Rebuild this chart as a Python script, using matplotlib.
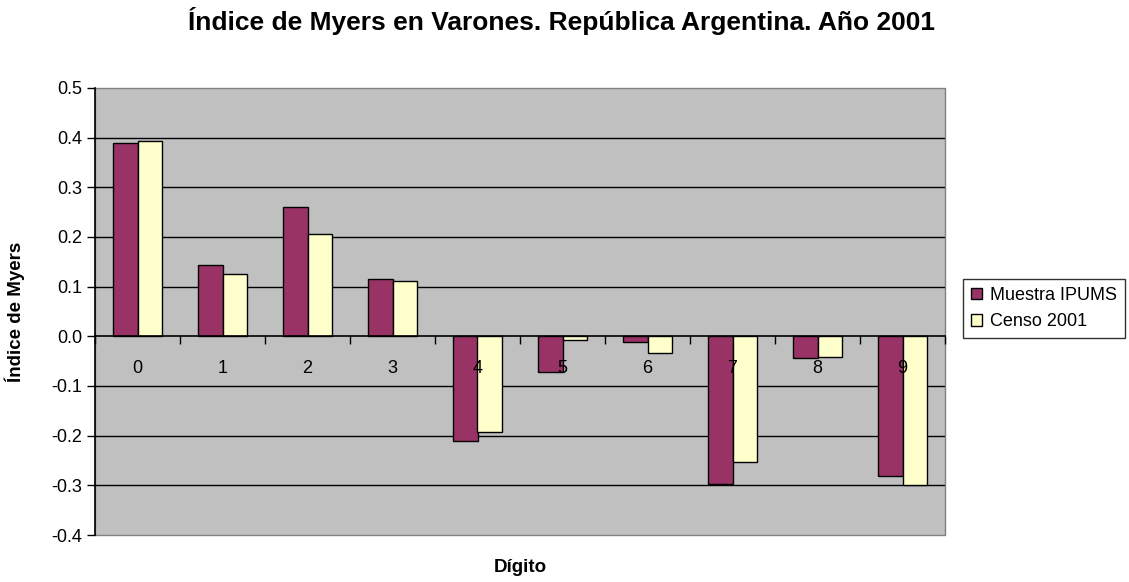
import matplotlib
matplotlib.use("Agg")
import matplotlib.pyplot as plt
import numpy as np

digits = ["0", "1", "2", "3", "4", "5", "6", "7", "8", "9"]
muestra_ipums = [0.390, 0.143, 0.261, 0.115, -0.210, -0.071, -0.011, -0.298, -0.044, -0.281]
censo_2001 = [0.393, 0.126, 0.207, 0.112, -0.193, -0.007, -0.034, -0.254, -0.041, -0.300]
series_names = ["Muestra IPUMS", "Censo 2001"]
y_ticks = [-0.4, -0.3, -0.2, -0.1, 0.0, 0.1, 0.2, 0.3, 0.4, 0.5]

plt.rcParams['font.family'] = ['Liberation Sans', 'DejaVu Sans']

fig = plt.figure(figsize=(11.29, 5.82), dpi=100)
ax = fig.add_axes([95/1129, 47/582, 850/1129, 447/582])
ax.set_facecolor('#C0C0C0')
ax.patch.set_edgecolor('#808080')
ax.patch.set_linewidth(1.0)
ax.set_axisbelow(False)

x = np.arange(len(digits))
w = 0.29
ax.bar(x - w/2, muestra_ipums, w, color='#993366', edgecolor='black', linewidth=1.0,
       label=series_names[0], zorder=2)
ax.bar(x + w/2, censo_2001, w, color='#FFFFCC', edgecolor='black', linewidth=1.0,
       label=series_names[1], zorder=2)

ax.set_xlim(-0.5, len(digits) - 0.5)
ax.set_ylim(-0.4, 0.5)
ax.set_yticks(y_ticks)
ax.set_yticklabels([f"{v:.1f}" for v in y_ticks], fontsize=13)
ax.tick_params(axis='y', direction='out', length=6, width=1, pad=3)

# gridlines for interior ticks only
for v in y_ticks[1:-1]:
    if v != 0.0:
        ax.axhline(v, color='black', linewidth=1.0, zorder=1)

for s in ['top', 'right']:
    ax.spines[s].set_visible(False)
ax.spines['left'].set_color('black')
ax.spines['left'].set_linewidth(1.2)
ax.spines['bottom'].set_position(('data', 0))
ax.spines['bottom'].set_color('black')
ax.spines['bottom'].set_linewidth(1.2)

ax.set_xticks(x)
ax.set_xticklabels(digits, fontsize=13)
ax.set_xticks(np.arange(-0.5, len(digits)), minor=True)
ax.tick_params(axis='x', which='major', length=0, pad=17)
ax.tick_params(axis='x', which='minor', direction='out', length=6, width=1)

ax.set_ylabel("Índice de Myers", fontsize=13.5, fontweight='bold')
ax.yaxis.set_label_coords(-0.0824, 0.5)
fig.text(520/1129, 1 - 568/582, "Dígito", fontsize=13.5, fontweight='bold', ha='center', va='center')
fig.text(562/1129, 1 - 21/582, "Índice de Myers en Varones. República Argentina. Año 2001",
         fontsize=19, fontweight='bold', ha='center', va='center')

leg = fig.legend(loc='upper left', bbox_to_anchor=(963/1129, 1 - 279/582), fontsize=13,
                 frameon=True, fancybox=False, edgecolor='black', handlelength=0.6,
                 handleheight=0.6, handletextpad=0.45, borderpad=0.45, labelspacing=0.5,
                 borderaxespad=0)
leg.get_frame().set_linewidth(1.0)

fig.savefig("out.png", dpi=100, facecolor='white')
